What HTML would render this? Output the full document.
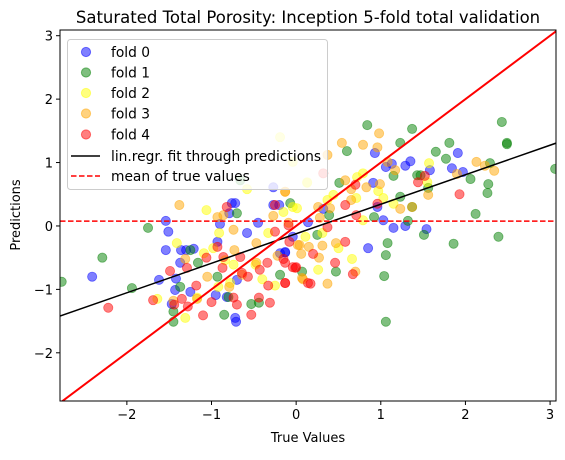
<!DOCTYPE html>
<html><head><meta charset="utf-8"><style>
body{margin:0;background:#fff}
svg text{font-family:"DejaVu Sans","Liberation Sans",sans-serif;fill:#000}
</style></head><body>
<svg id="chart" width="565" height="455" xmlns="http://www.w3.org/2000/svg">
<g id="marks"></g>
</svg>
<script>
const fold0X=[-2.41,-1.54,-1.54,-1.51,-1.36,-1.30,-1.21,-1.37,-1.62,-1.42,-1.43,-1.25,-1.47,-0.95,-0.82,-0.72,-0.71,-0.76,-0.72,-0.79,-0.9,-0.58,-0.45,-0.27,-0.27,-0.2,-0.93,-0.19,-0.13,-0.70,-0.04,0.93,1.06,1.13,1.29,1.35,1.58,1.84,1.91,1.97,0.91,0.96,1.03,1.15,1.29,1.54,0.85,0.32,-0.13,0.14];
const fold0Y=[-0.80,-0.38,0.08,-0.09,-0.38,-0.38,-0.36,-0.58,-0.85,-0.83,-1.01,-1.04,-1.23,-1.09,-1.12,-1.45,-1.51,0.36,0.36,0.2,0.03,-0.11,0.05,0.61,0.33,0.33,-0.25,-0.43,-0.42,-0.85,-0.17,1.15,0.93,0.98,0.95,1.02,0.88,0.91,1.15,0.85,0.68,0.3,0.09,-0.03,0.0,-0.05,-0.35,0.27,-0.41,0.06];
const fold1X=[-2.77,-2.29,-1.94,-1.75,-1.37,-1.45,-1.45,-1.25,-1.16,-0.93,-0.85,-0.8,-0.70,-0.53,-0.44,-0.19,-0.07,-0.66,0.84,1.37,1.23,0.6,1.65,1.81,1.77,2.43,2.49,2.49,3.06,2.29,2.06,2.27,2.26,1.43,1.47,1.15,1.56,1.23,1.37,1.32,0.92,0.51,0.39,0.25,2.12,1.51,2.39,1.86,1.08,1.06,1.04,1.06,0.47,0.07];
const fold1Y=[-0.88,-0.5,-0.98,-0.03,-0.96,-1.35,-1.51,-0.38,-0.58,-0.8,-1.40,-1.12,0.2,-1.23,-1.21,-0.77,0.36,0.72,1.59,1.53,1.31,1.18,1.17,1.31,1.06,1.64,1.31,1.29,0.9,0.99,0.74,0.66,0.52,0.80,0.80,0.79,0.6,0.46,0.3,0.08,0.14,0.68,0.17,-0.14,0.19,-0.14,-0.17,-0.28,-0.27,-0.46,-0.79,-1.51,-0.72,-0.72];
const fold2X=[-1.06,-0.58,-1.41,-1.64,-1.31,-1.17,-1.09,-0.98,-0.91,-0.84,-0.78,-0.74,-0.33,-0.4,-0.25,-0.15,0.01,0.13,-0.48,-0.92,1.57,1.55,0.72,0.79,0.97,1.03,0.71,1.15,0.79,0.44,0.37,-0.04,0.31,0.5,0.66,0.26,0.11,-0.19,-0.04,0.13];
const fold2Y=[0.25,0.58,-0.27,-1.15,-1.45,-1.13,-0.43,-0.35,-0.11,-0.54,-0.9,-0.61,-0.11,-0.84,-0.94,0.22,0.28,0.68,-0.61,-0.96,0.99,0.69,0.77,0.83,0.55,0.44,0.44,0.35,0.09,0.49,0.41,0.3,-0.11,-0.35,-0.52,-0.69,-0.17,1.4,1.01,0.69];
const fold3X=[-1.38,-1.05,-1.31,-1.45,-0.93,-0.86,-0.74,-0.73,-0.47,-0.13,-0.27,-0.09,0.02,0.06,0.08,-0.22,-0.79,-0.64,-0.47,-1.17,0.98,0.79,0.96,0.54,1.08,1.17,2.13,2.23,2.34,1.90,1.56,0.83,0.99,0.58,0.65,0.65,1.23,1.37,0.26,0.28,0.40,-0.13,0.15,0.04,0.27,0.31,0.47,0.7,0.37,0.07,0.37];
const fold3Y=[0.33,-0.8,-0.52,-1.18,0.14,0.17,-0.06,-0.38,-0.27,0.54,0.16,0.05,-0.3,-0.44,-0.84,-0.47,-0.96,-0.77,-0.58,-1.15,1.46,1.28,1.24,1.31,1.01,0.88,1.01,0.95,0.87,0.82,0.49,0.61,0.66,0.72,0.58,0.41,0.27,0.3,0.3,0.13,0.28,0.54,-0.33,-0.3,-0.5,-0.31,-0.27,-0.72,-0.91,-0.82,1.12];
const fold4X=[-2.22,-1.69,-1.49,-1.44,-1.35,-1.28,-1.18,-1.29,-1.10,-1.0,-1.06,-0.87,-0.82,-0.93,-0.86,-0.66,-0.64,-0.57,-0.74,-0.7,-0.53,-0.44,-0.31,-0.43,-0.33,-0.34,-0.25,-0.15,-0.08,-0.04,-0.13,-0.25,0.14,-0.01,0.70,0.71,0.58,0.96,1.44,1.52,1.93,0.32,0.37,0.58,0.2,0.0,-0.13,0.46,0.67,0.17,-0.13,-0.09];
const fold4Y=[-1.29,-1.17,-0.71,-1.24,-1.15,-1.27,-0.94,-0.66,-1.41,-1.2,-0.5,-0.66,0.3,-0.33,-0.49,-0.49,-0.74,-0.8,-1.13,-1.24,-1.4,-1.13,-1.21,-0.69,-0.94,-0.58,-0.09,-0.52,-0.25,-0.65,-0.9,0.33,-0.9,-0.66,0.65,0.17,0.33,0.35,0.69,0.79,0.5,0.83,-0.02,-0.25,-0.44,-0.65,-0.58,-0.58,-0.76,-0.91,-0.9,0.01];
const foldLabels=["fold 0","fold 1","fold 2","fold 3","fold 4"];
const xTicks=[-2,-1,0,1,2,3];
const yTicks=[-2,-1,0,1,2,3];
const xMin=-2.79,xMax=3.07,yMin=-2.76,yMax=3.09;

const L=60,R=556,T=30,B=401;
const sx=v=>L+(v-xMin)/(xMax-xMin)*(R-L);
const sy=v=>B-(v-yMin)/(yMax-yMin)*(B-T);
const NS="http://www.w3.org/2000/svg";
const svg=document.getElementById('chart');
const g=document.getElementById('marks');
function mk(tag,attrs,parent){const e=document.createElementNS(NS,tag);for(const k in attrs)e.setAttribute(k,attrs[k]);(parent||g).appendChild(e);return e;}
const colors=["#0000ff","#008000","#ffff00","#ffa500","#ff0000"];
const xs=[fold0X,fold1X,fold2X,fold3X,fold4X], ys=[fold0Y,fold1Y,fold2Y,fold3Y,fold4Y];
const clip=mk('clipPath',{id:'pc'},svg);mk('rect',{x:L,y:T,width:R-L,height:B-T},clip);
const pg=mk('g',{'clip-path':'url(#pc)'});


let allX=[],allY=[];
for(let f=0;f<5;f++){
  const fg=mk('g',{},pg);
  
  
  for(let i=0;i<xs[f].length;i++){
    const c=mk('circle',{cx:sx(xs[f][i]),cy:sy(ys[f][i]),r:4.6,fill:colors[f],'fill-opacity':0.5,stroke:colors[f],'stroke-opacity':0.5,'stroke-width':0.8},fg);
    
    
    allX.push(xs[f][i]);allY.push(ys[f][i]);
  }
}
const n=allX.length,mx=allX.reduce((a,b)=>a+b)/n,my=allY.reduce((a,b)=>a+b)/n;
let sxy=0,sxx=0;for(let i=0;i<n;i++){sxy+=(allX[i]-mx)*(allY[i]-my);sxx+=(allX[i]-mx)**2;}
const slope=sxy/sxx,icpt=my-slope*mx;
const reg=mk('line',{x1:sx(xMin),y1:sy(icpt+slope*xMin),x2:sx(xMax),y2:sy(icpt+slope*xMax),stroke:'#000','stroke-width':1.5},pg);


const id=mk('line',{x1:sx(xMin),y1:sy(xMin),x2:sx(xMax),y2:sy(xMax),stroke:'#ff0000','stroke-width':2},pg);


const mean=mk('line',{x1:L,y1:sy(mx),x2:R,y2:sy(mx),stroke:'#ff0000','stroke-width':1.5,'stroke-dasharray':'5.5,2.5'},pg);


const fr=mk('rect',{x:L,y:T,width:R-L,height:B-T,fill:'none',stroke:'#000','stroke-width':1});


xTicks.forEach(t=>{const x=sx(t);if(x<L-0.5||x>R+0.5)return;
  const tl=mk('line',{x1:x,y1:B,x2:x,y2:B+4,stroke:'#000'});
  
  
  const tx=mk('text',{x:x,y:B+18,'text-anchor':'middle','font-size':13});tx.textContent=(t<0?'\u2212'+(-t):t);
  
  });
yTicks.forEach(t=>{const y=sy(t);if(y<T-0.5||y>B+0.5)return;
  const tl=mk('line',{x1:L-4,y1:y,x2:L,y2:y,stroke:'#000'});
  
  
  const tx=mk('text',{x:L-7,y:y+5,'text-anchor':'end','font-size':13});tx.textContent=(t<0?'\u2212'+(-t):t);
  
  });
const lg=mk('g',{});


mk('rect',{x:67.5,y:39.5,width:260,height:150,rx:3,fill:'#fff','fill-opacity':0.8,stroke:'#ccc'},lg);
const rowsY=[52,72.5,93,113.5,134.5];
for(let f=0;f<5;f++){
  const c=mk('circle',{cx:86,cy:rowsY[f],r:4.6,fill:colors[f],'fill-opacity':0.5,stroke:colors[f],'stroke-opacity':0.5},lg);
  
  
  const t=mk('text',{x:111,y:rowsY[f]+5,'font-size':13.8},lg);t.textContent=foldLabels[f];
  
  
}
mk('line',{x1:71,y1:156,x2:100,y2:156,stroke:'#000','stroke-width':1.5},lg);
let t1=mk('text',{x:111,y:161,'font-size':13.8},lg);t1.textContent='lin.regr. fit through predictions';


mk('line',{x1:71,y1:176,x2:100,y2:176,stroke:'#ff0000','stroke-width':1.5,'stroke-dasharray':'5.5,2.5'},lg);
let t2=mk('text',{x:111,y:181,'font-size':13.8},lg);t2.textContent='mean of true values';


</script>
<svg style="position:absolute;left:0;top:0" width="565" height="455">
<text x="308" y="23" text-anchor="middle" font-size="16.5">Saturated Total Porosity: Inception 5-fold total validation</text>
<text x="308" y="442" text-anchor="middle" font-size="13">True Values</text>
<text x="20" y="215" text-anchor="middle" font-size="13" transform="rotate(-90 20 215)">Predictions</text>
</svg>
</body></html>
